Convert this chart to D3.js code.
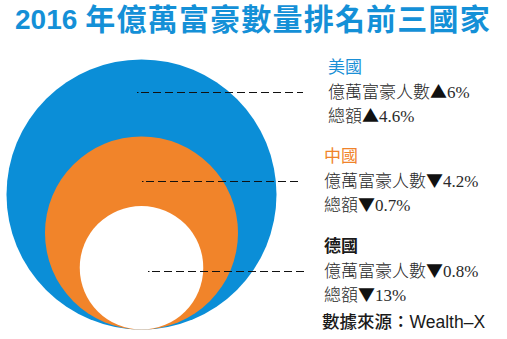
<!DOCTYPE html>
<html>
<head>
<meta charset="utf-8">
<script src="https://cdn.jsdelivr.net/npm/d3@7"></script>
<style>
  html, body { margin: 0; padding: 0; background: #fff; }
  svg { display: block; }
</style>
</head>
<body>
<svg id="chart" width="507" height="339"></svg>
<script>
// Top three countries by number of billionaires, 2016
const countries = ["美國", "中國", "德國"];
const billionaires = [540, 276, 113];          // relative circle areas
const countChange = [6, -4.2, -0.8];           // % change in billionaire count
const wealthChange = [4.6, -0.7, -13];         // % change in total wealth
const titleYear = "2016";
const titleText = " 年億萬富豪數量排名前三國家";
const sourceText = "數據來源：Wealth–X";

const fills = ["#0b8ed7", "#f1842a", "#ffffff"];
const labelColors = ["#1a8fd6", "#f0832a", "#1a1a1a"];
const labelWeights = [400, 400, 700];

const svg = d3.select("#chart");

// Title
const title = svg.append("text")
  .attr("x", 15).attr("y", 30)
  .attr("fill", "#1490d7")
  .attr("font-weight", 700);
title.append("tspan")
  .attr("font-family", "'Liberation Sans', Arial, sans-serif")
  .attr("font-size", 28)
  .attr("dy", -1)
  .text(titleYear);
title.append("tspan")
  .attr("font-family", "'Noto Sans CJK TC', sans-serif")
  .attr("font-size", 30)
  .attr("letter-spacing", 1.2)
  .attr("dy", 1)
  .text(titleText);

// Nested circles, bottom-aligned, area proportional to count
const r = d3.scaleSqrt().domain([0, d3.max(billionaires)]).range([0, 135]);
const cx = 141.5, bottom = 329.5;

svg.append("g").selectAll("circle")
  .data(billionaires)
  .join("circle")
  .attr("cx", cx)
  .attr("cy", d => bottom - r(d))
  .attr("r", d => r(d))
  .attr("fill", (d, i) => fills[i]);

// Label blocks
const blockX = [328, 324, 324];
const blockY = [73, 162, 252];
const leaderStart = [137, 142, 148];
const leaderEnd = [303, 301, 307];

const bodyFont = "'Liberation Serif', 'Noto Sans CJK TC', serif";

// "label ▲x%" line: CJK text, triangle from the CJK font, number in serif
function changeLine(sel, label, v) {
  sel.append("tspan").text(label);
  sel.append("tspan")
    .attr("font-family", "'Noto Sans CJK TC', sans-serif")
    .attr("fill", "#111")
    .text(v >= 0 ? "▲" : "▼");
  sel.append("tspan").text(Math.abs(v) + "%");
}

countries.forEach((c, i) => {
  const g = svg.append("g");
  const y0 = blockY[i];

  // dashed leader line
  const ly = y0 + 19.5;
  g.append("line")
    .attr("x1", leaderStart[i]).attr("x2", leaderStart[i] + 1.5)
    .attr("y1", ly).attr("y2", ly)
    .attr("stroke", "#111").attr("stroke-width", 1);
  g.append("line")
    .attr("x1", leaderStart[i] + 4).attr("x2", leaderEnd[i])
    .attr("y1", ly).attr("y2", ly)
    .attr("stroke", "#111").attr("stroke-width", 1)
    .attr("stroke-dasharray", "8,4");

  g.append("text")
    .attr("x", blockX[i]).attr("y", y0)
    .attr("font-family", "'Noto Sans CJK TC', sans-serif")
    .attr("font-size", 17)
    .attr("font-weight", labelWeights[i])
    .attr("fill", labelColors[i])
    .text(c);

  g.append("text")
    .attr("x", blockX[i]).attr("y", y0 + 25)
    .attr("font-family", bodyFont)
    .attr("font-size", 17)
    .attr("font-weight", 300)
    .attr("fill", "#2a2a2a")
    .call(changeLine, "億萬富豪人數", countChange[i]);

  g.append("text")
    .attr("x", blockX[i]).attr("y", y0 + 49)
    .attr("font-family", bodyFont)
    .attr("font-size", 17)
    .attr("font-weight", 300)
    .attr("fill", "#2a2a2a")
    .call(changeLine, "總額", wealthChange[i]);
});

// Source
svg.append("text")
  .attr("x", 322).attr("y", 328)
  .attr("font-family", "'Liberation Sans', 'Noto Sans CJK TC', sans-serif")
  .attr("font-size", 17.5)
  .attr("font-weight", 500)
  .attr("fill", "#1a1a1a")
  .text(sourceText);
</script>
</body>
</html>
